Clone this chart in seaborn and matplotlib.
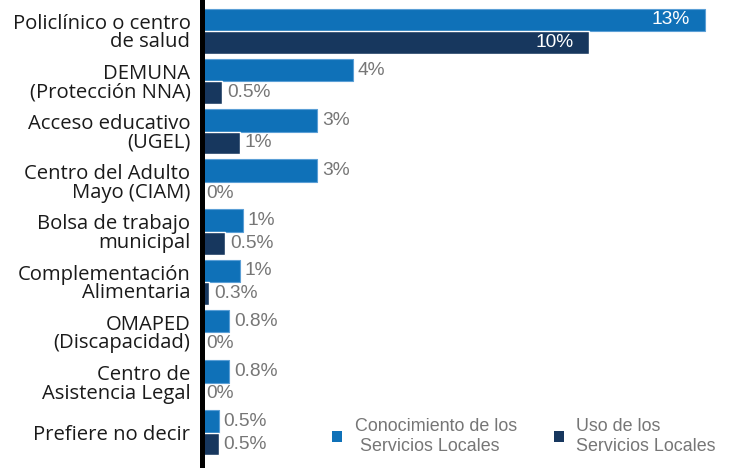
import pandas as pd
import numpy as np
import matplotlib.pyplot as plt
import seaborn as sns
from matplotlib.patches import Patch

# ---- datos ----
categorias = [
    "Policlínico o centro\nde salud",
    "DEMUNA\n(Protección NNA)",
    "Acceso educativo\n(UGEL)",
    "Centro del Adulto\nMayo (CIAM)",
    "Bolsa de trabajo\nmunicipal",
    "Complementación\nAlimentaria",
    "OMAPED\n(Discapacidad)",
    "Centro de\nAsistencia Legal",
    "Prefiere no decir",
]
conocimiento = [13.0, 3.9, 2.98, 2.98, 1.06, 0.99, 0.72, 0.72, 0.44]
uso = [10.0, 0.54, 0.99, 0.0, 0.61, 0.2, 0.0, 0.0, 0.44]
etiquetas_conocimiento = ["13%", "4%", "3%", "3%", "1%", "1%", "0.8%", "0.8%", "0.5%"]
etiquetas_uso = ["10%", "0.5%", "1%", "0%", "0.5%", "0.3%", "0%", "0%", "0.5%"]
series = ["Conocimiento de los\n Servicios Locales", "Uso de los\nServicios Locales"]

azul = "#0F71B8"
marino = "#17375E"
gris = "#767676"

df = pd.DataFrame({
    "Categoria": categorias * 2,
    "Valor": conocimiento + uso,
    "Serie": [series[0]] * len(categorias) + [series[1]] * len(categorias),
})

sns.set_style("white")
fig = plt.figure(figsize=(7.32, 4.68), dpi=100)
ax = fig.add_axes([0.2753, 0.0, 0.7247, 1.0])

sns.barplot(data=df, x="Valor", y="Categoria", hue="Serie", orient="h",
            palette=[azul, marino], saturation=1, width=0.9, ax=ax, legend=False)

# borde claro en las barras celestes
for p in ax.containers[0]:
    p.set_edgecolor("#5B9FD6")
    p.set_linewidth(0.8)

ax.set_xlim(0, 13.69)
ax.set_ylim(8.7, -0.62)
ax.set_xlabel("")
ax.set_ylabel("")
ax.set_xticks([])
ax.tick_params(axis="y", length=0, pad=8)
for lab in ax.get_yticklabels():
    lab.set_fontfamily("Open Sans")
    lab.set_fontsize(14.6)
    lab.set_linespacing(0.9)
    lab.set_color("#1a1a1a")

for s in ["top", "right", "bottom"]:
    ax.spines[s].set_visible(False)
ax.spines["left"].set_color("black")
ax.spines["left"].set_linewidth(3.6)
ax.spines["left"].set_zorder(5)

# etiquetas fuera de la barra (la primera fila va dentro, en blanco)
fuera_c = [""] + etiquetas_conocimiento[1:]
fuera_u = [""] + etiquetas_uso[1:]
ax.bar_label(ax.containers[0], labels=fuera_c, padding=3.5, color=gris,
             fontsize=13.8, family="Liberation Sans")
ax.bar_label(ax.containers[1], labels=fuera_u, padding=3.5, color=gris,
             fontsize=13.8, family="Liberation Sans")

for cont, txt in [(ax.containers[0], etiquetas_conocimiento[0]),
                  (ax.containers[1], etiquetas_uso[0])]:
    p = cont.patches[0]
    ax.annotate(txt, xy=(p.get_x() + p.get_width(), p.get_y() + p.get_height() / 2),
                xytext=(-11, 0), textcoords="offset points", ha="right", va="center",
                color="white", fontsize=13.8, family="Liberation Sans")

handles = [Patch(facecolor=azul, edgecolor="none"), Patch(facecolor=marino, edgecolor="none")]
fig.legend(handles, series, loc="upper left", bbox_to_anchor=(0.454, 0.107),
           ncol=2, frameon=False, borderpad=0, borderaxespad=0,
           handlelength=0.55, handleheight=0.55, handletextpad=0.7,
           columnspacing=2.06, labelspacing=0,
           prop={"family": "Liberation Sans", "size": 12.9}, labelcolor=gris)

plt.savefig("out.png", dpi=100)
